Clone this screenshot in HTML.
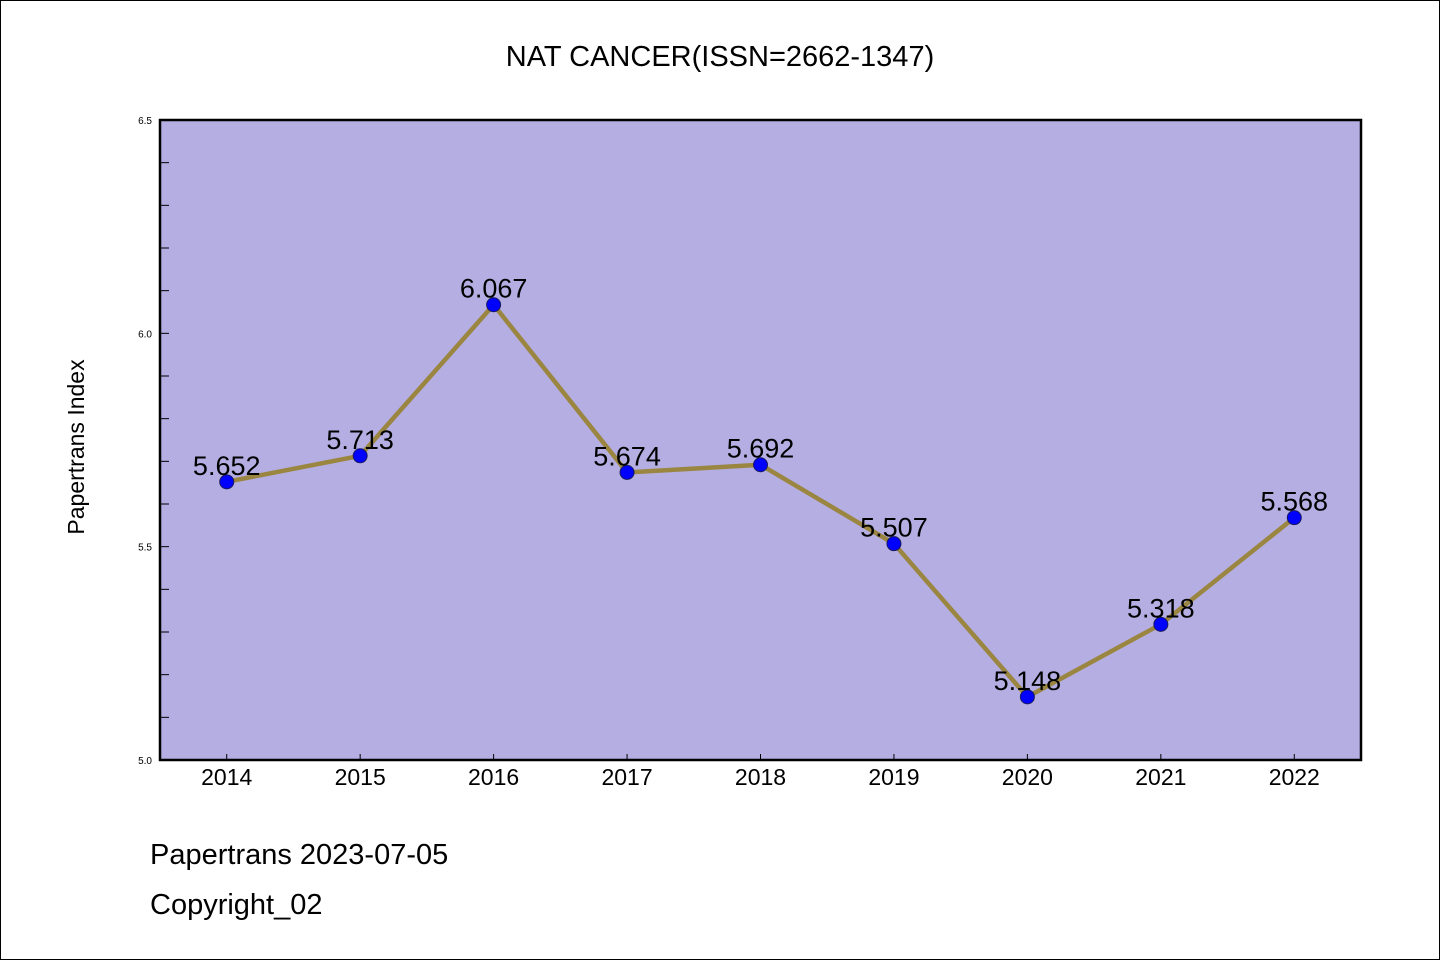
<!DOCTYPE html>
<html><head><meta charset="utf-8"><style>
html,body{margin:0;padding:0;background:#fff}
svg{display:block}
text{font-family:"WenQuanYi Zen Hei","Liberation Sans",sans-serif}
</style></head><body>
<svg id="chart" width="1440" height="960" xmlns="http://www.w3.org/2000/svg">
<rect x="0.5" y="0.5" width="1439" height="959" fill="#fff" stroke="#000" stroke-width="1"/>
<text x="720" y="66" font-size="29" text-anchor="middle">NAT CANCER(ISSN=2662-1347)</text>
<rect x="160" y="120" width="1201" height="640" fill="#b5aee3"/>
<g id="ticks"></g>
<g id="series"></g>
<rect x="160" y="120" width="1201" height="640" fill="none" stroke="#000" stroke-width="2.5"/>
<text transform="translate(84,447) rotate(-90)" font-size="23" text-anchor="middle">Papertrans Index</text>
<text x="150" y="864" font-size="29">Papertrans 2023-07-05</text>
<text x="150" y="914" font-size="29">Copyright_02</text>
</svg>
<script>
const years = [2014,2015,2016,2017,2018,2019,2020,2021,2022];
const values = [5.652,5.713,6.067,5.674,5.692,5.507,5.148,5.318,5.568];
const valueLabels = ["5.652","5.713","6.067","5.674","5.692","5.507","5.148","5.318","5.568"];
const yTickLabels = ["5.0","5.5","6.0","6.5"];
const yMinorTicks = [5.1,5.2,5.3,5.4,5.6,5.7,5.8,5.9,6.1,6.2,6.3,6.4];

const NS="http://www.w3.org/2000/svg";
const L=160,R=1361,T=120,B=760,yMin=5.0,yMax=6.5;
const xs=i=>L+(R-L)*(i+0.5)/years.length;
const ys=v=>B-(v-yMin)/(yMax-yMin)*(B-T);
function mk(tag,attrs,parent){const e=document.createElementNS(NS,tag);for(const k in attrs)e.setAttribute(k,attrs[k]);parent.appendChild(e);return e;}
const tg=document.getElementById('ticks'), sg=document.getElementById('series');
yTickLabels.forEach(lbl=>{
  const v=parseFloat(lbl),y=ys(v);
  const t=mk('text',{x:152,y:y+4,'font-size':10,'text-anchor':'end'},tg);t.textContent=lbl;
  
  
  const l=mk('line',{x1:L,x2:L+9,y1:y,y2:y,stroke:'#000','stroke-width':1},tg);
  
  
});
yMinorTicks.forEach(v=>{
  const y=ys(v);
  const l=mk('line',{x1:L,x2:L+9,y1:y,y2:y,stroke:'#000','stroke-width':1},tg);
  
  
});
years.forEach((yr,i)=>{
  const x=xs(i);
  const l=mk('line',{x1:x,x2:x,y1:B,y2:B-6,stroke:'#000','stroke-width':1},tg);
  
  
  const t=mk('text',{x:x,y:B+25,'font-size':23,'text-anchor':'middle'},tg);t.textContent=yr;
  
  
});
const pts=values.map((v,i)=>xs(i)+','+ys(v)).join(' ');
const pl=mk('polyline',{points:pts,fill:'none',stroke:'#9a8640','stroke-width':4.5,'stroke-linejoin':'round'},sg);


values.forEach((v,i)=>{
  const c=mk('circle',{cx:xs(i),cy:ys(v),r:7,fill:'#0000ff',stroke:'#1a1a60','stroke-width':1},sg);
  
  
});
values.forEach((v,i)=>{
  const t=mk('text',{x:xs(i),y:ys(v)-7,'font-size':27,'text-anchor':'middle'},sg);t.textContent=valueLabels[i];
  
  
});
</script>
</body></html>
